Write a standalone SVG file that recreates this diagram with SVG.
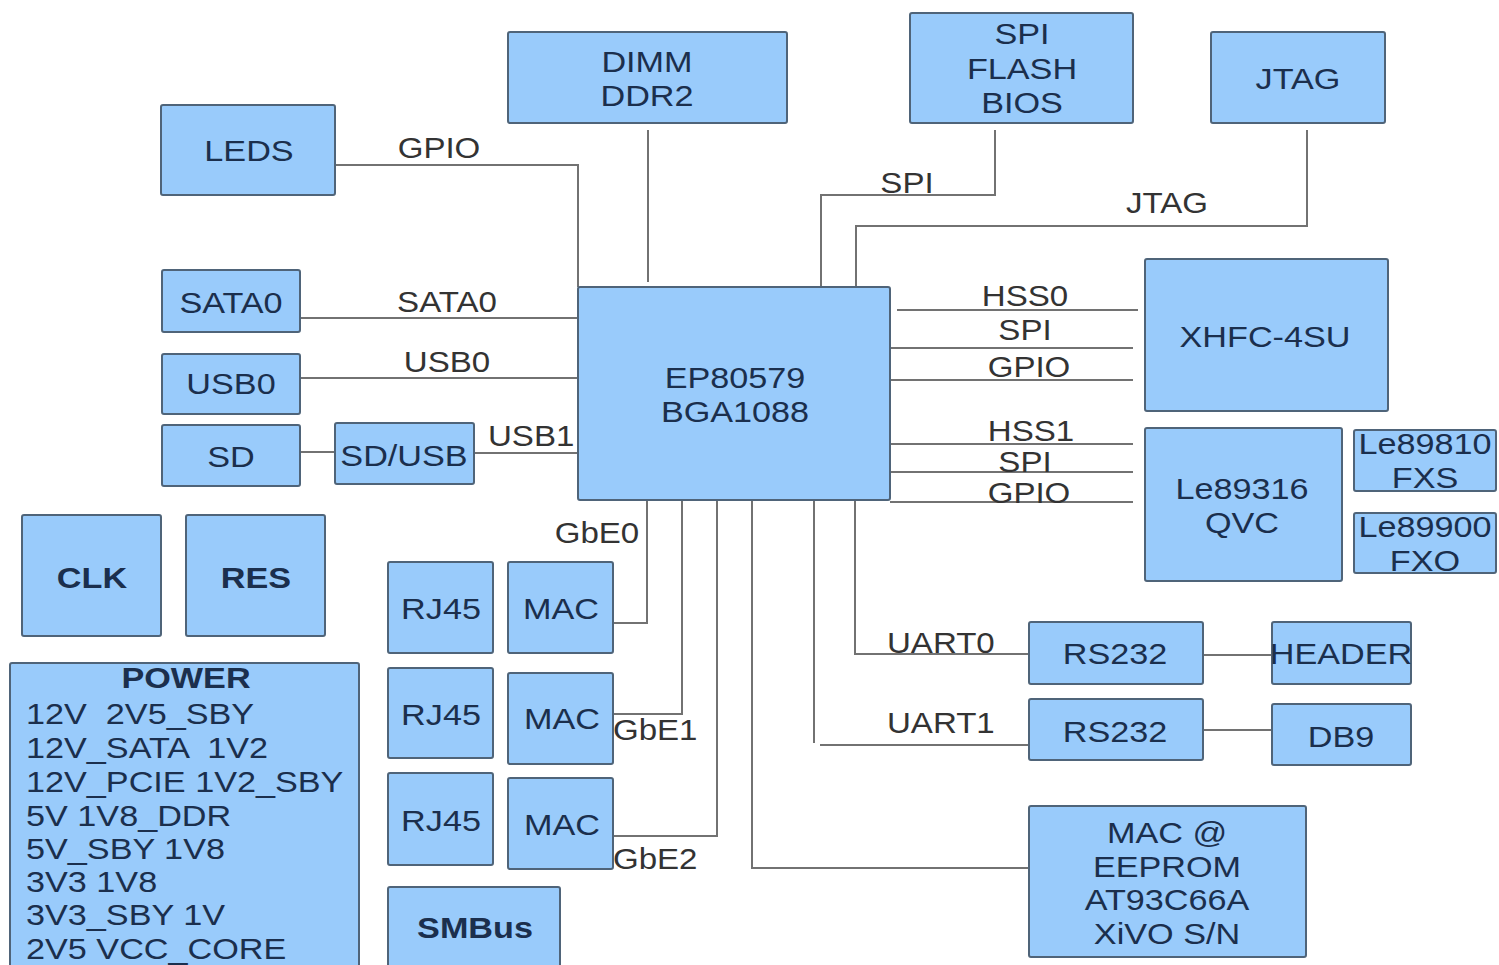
<svg xmlns="http://www.w3.org/2000/svg" width="1499" height="965" viewBox="0 0 1499 965">
<style>
.box{fill:#99cbfb;stroke:#4f6479;stroke-width:2}
.w{fill:none;stroke:#727272;stroke-width:2}
.n{font-family:"Liberation Sans",Arial,sans-serif;font-size:30px;fill:#1b2f4d;text-anchor:middle}
.b{font-weight:bold}
.p{font-family:"Liberation Sans",Arial,sans-serif;font-size:30px;fill:#1b2f4d;white-space:pre}
.l{font-family:"Liberation Sans",Arial,sans-serif;font-size:29px;fill:#333333;text-anchor:middle}
.ls{font-family:"Liberation Sans",Arial,sans-serif;font-size:29px;fill:#333333}
</style>
<rect width="1499" height="965" fill="#ffffff"/>
<g id="connectors">
<path class="w" d="M335 165 H578 V287"/>
<path class="w" d="M648 130 V282"/>
<path class="w" d="M995 130 V195 H821 V287"/>
<path class="w" d="M1307 130 V226 H856 V287"/>
<path class="w" d="M300 318 H578"/>
<path class="w" d="M300 378 H578"/>
<path class="w" d="M300 452 H335"/>
<path class="w" d="M474 453 H578"/>
<path class="w" d="M897 310 H1138"/>
<path class="w" d="M890 348 H1133"/>
<path class="w" d="M890 380 H1133"/>
<path class="w" d="M890 444 H1133"/>
<path class="w" d="M890 472 H1133"/>
<path class="w" d="M890 502 H1133"/>
<path class="w" d="M647 500 V623 H612"/>
<path class="w" d="M682 500 V714 H612"/>
<path class="w" d="M717 500 V836 H612"/>
<path class="w" d="M752 500 V868 H1029"/>
<path class="w" d="M814 500 V743"/>
<path class="w" d="M820 745 H1029"/>
<path class="w" d="M855 500 V654 H1029"/>
<path class="w" d="M1203 655 H1272"/>
<path class="w" d="M1203 730 H1272"/>
<text class="l" transform="translate(439,158) scale(1.14,1)">GPIO</text>
<text class="l" transform="translate(907,193) scale(1.14,1)">SPI</text>
<text class="l" transform="translate(1167,213) scale(1.14,1)">JTAG</text>
<text class="l" transform="translate(447,312) scale(1.14,1)">SATA0</text>
<text class="l" transform="translate(447,372) scale(1.14,1)">USB0</text>
<text class="ls" transform="translate(488,446) scale(1.14,1)">USB1</text>
<text class="l" transform="translate(1025,306) scale(1.14,1)">HSS0</text>
<text class="l" transform="translate(1025,340) scale(1.14,1)">SPI</text>
<text class="l" transform="translate(1029,377) scale(1.14,1)">GPIO</text>
<text class="l" transform="translate(1031,441) scale(1.14,1)">HSS1</text>
<text class="l" transform="translate(1025,472) scale(1.14,1)">SPI</text>
<text class="l" transform="translate(1029,503) scale(1.14,1)">GPIO</text>
<text class="l" transform="translate(597,543) scale(1.14,1)">GbE0</text>
<text class="ls" transform="translate(613,740) scale(1.14,1)">GbE1</text>
<text class="ls" transform="translate(613,869) scale(1.14,1)">GbE2</text>
<text class="ls" transform="translate(887,653) scale(1.14,1)">UART0</text>
<text class="ls" transform="translate(887,733) scale(1.14,1)">UART1</text>
</g>
<g id="dimm"><rect class="box" x="508" y="32" width="279" height="91" rx="2"/>
<text class="n" transform="translate(647,72) scale(1.14,1)">DIMM</text>
<text class="n" transform="translate(647,106) scale(1.14,1)">DDR2</text></g>
<g id="spiflash"><rect class="box" x="910" y="13" width="223" height="110" rx="2"/>
<text class="n" transform="translate(1022,44) scale(1.14,1)">SPI</text>
<text class="n" transform="translate(1022,79) scale(1.14,1)">FLASH</text>
<text class="n" transform="translate(1022,113) scale(1.14,1)">BIOS</text></g>
<g id="jtag"><rect class="box" x="1211" y="32" width="174" height="91" rx="2"/>
<text class="n" transform="translate(1298,89) scale(1.14,1)">JTAG</text></g>
<g id="leds"><rect class="box" x="161" y="105" width="174" height="90" rx="2"/>
<text class="n" transform="translate(249,161) scale(1.14,1)">LEDS</text></g>
<g id="sata0"><rect class="box" x="162" y="270" width="138" height="62" rx="2"/>
<text class="n" transform="translate(231,313) scale(1.14,1)">SATA0</text></g>
<g id="usb0"><rect class="box" x="162" y="354" width="138" height="60" rx="2"/>
<text class="n" transform="translate(231,394) scale(1.14,1)">USB0</text></g>
<g id="sd"><rect class="box" x="162" y="425" width="138" height="61" rx="2"/>
<text class="n" transform="translate(231,467) scale(1.14,1)">SD</text></g>
<g id="sdusb"><rect class="box" x="335" y="423" width="139" height="61" rx="2"/>
<text class="n" transform="translate(404,466) scale(1.14,1)">SD/USB</text></g>
<g id="clk"><rect class="box" x="22" y="515" width="139" height="121" rx="2"/>
<text class="n b" transform="translate(92,588) scale(1.14,1)">CLK</text></g>
<g id="res"><rect class="box" x="186" y="515" width="139" height="121" rx="2"/>
<text class="n b" transform="translate(256,588) scale(1.14,1)">RES</text></g>
<g id="power"><rect class="box" x="10" y="663" width="349" height="310" rx="2"/>
<text class="n b" transform="translate(186,688) scale(1.14,1)">POWER</text>
<text class="p" transform="translate(26,724) scale(1.14,1)">12V  2V5_SBY</text>
<text class="p" transform="translate(26,758) scale(1.14,1)">12V_SATA  1V2</text>
<text class="p" transform="translate(26,792) scale(1.14,1)">12V_PCIE 1V2_SBY</text>
<text class="p" transform="translate(26,826) scale(1.14,1)">5V 1V8_DDR</text>
<text class="p" transform="translate(26,859) scale(1.14,1)">5V_SBY 1V8</text>
<text class="p" transform="translate(26,892) scale(1.14,1)">3V3 1V8</text>
<text class="p" transform="translate(26,925) scale(1.14,1)">3V3_SBY 1V</text>
<text class="p" transform="translate(26,959) scale(1.14,1)">2V5 VCC_CORE</text></g>
<g id="rj45a"><rect class="box" x="388" y="562" width="105" height="91" rx="2"/>
<text class="n" transform="translate(441,619) scale(1.14,1)">RJ45</text></g>
<g id="rj45b"><rect class="box" x="388" y="668" width="105" height="90" rx="2"/>
<text class="n" transform="translate(441,725) scale(1.14,1)">RJ45</text></g>
<g id="rj45c"><rect class="box" x="388" y="773" width="105" height="92" rx="2"/>
<text class="n" transform="translate(441,831) scale(1.14,1)">RJ45</text></g>
<g id="maca"><rect class="box" x="508" y="562" width="105" height="91" rx="2"/>
<text class="n" transform="translate(561,619) scale(1.14,1)">MAC</text></g>
<g id="macb"><rect class="box" x="508" y="673" width="105" height="91" rx="2"/>
<text class="n" transform="translate(562,729) scale(1.14,1)">MAC</text></g>
<g id="macc"><rect class="box" x="508" y="778" width="105" height="91" rx="2"/>
<text class="n" transform="translate(562,835) scale(1.14,1)">MAC</text></g>
<g id="smbus"><rect class="box" x="388" y="887" width="172" height="90" rx="2"/>
<text class="n b" transform="translate(475,938) scale(1.14,1)">SMBus</text></g>
<g id="ep80579"><rect class="box" x="578" y="287" width="312" height="213" rx="2"/>
<text class="n" transform="translate(735,388) scale(1.14,1)">EP80579</text>
<text class="n" transform="translate(735,422) scale(1.14,1)">BGA1088</text></g>
<g id="xhfc"><rect class="box" x="1145" y="259" width="243" height="152" rx="2"/>
<text class="n" transform="translate(1265,347) scale(1.14,1)">XHFC-4SU</text></g>
<g id="le89316"><rect class="box" x="1145" y="428" width="197" height="153" rx="2"/>
<text class="n" transform="translate(1242,499) scale(1.14,1)">Le89316</text>
<text class="n" transform="translate(1242,533) scale(1.14,1)">QVC</text></g>
<g id="le89810"><rect class="box" x="1354" y="430" width="142" height="61" rx="2"/>
<text class="n" transform="translate(1425,454) scale(1.14,1)">Le89810</text>
<text class="n" transform="translate(1425,488) scale(1.14,1)">FXS</text></g>
<g id="le89900"><rect class="box" x="1354" y="513" width="142" height="60" rx="2"/>
<text class="n" transform="translate(1425,537) scale(1.14,1)">Le89900</text>
<text class="n" transform="translate(1425,571) scale(1.14,1)">FXO</text></g>
<g id="rs232a"><rect class="box" x="1029" y="622" width="174" height="62" rx="2"/>
<text class="n" transform="translate(1115,664) scale(1.14,1)">RS232</text></g>
<g id="header"><rect class="box" x="1272" y="622" width="139" height="62" rx="2"/>
<text class="n" transform="translate(1341,664) scale(1.14,1)">HEADER</text></g>
<g id="rs232b"><rect class="box" x="1029" y="699" width="174" height="61" rx="2"/>
<text class="n" transform="translate(1115,742) scale(1.14,1)">RS232</text></g>
<g id="db9"><rect class="box" x="1272" y="704" width="139" height="61" rx="2"/>
<text class="n" transform="translate(1341,747) scale(1.14,1)">DB9</text></g>
<g id="eeprom"><rect class="box" x="1029" y="806" width="277" height="151" rx="2"/>
<text class="n" transform="translate(1167,843) scale(1.14,1)">MAC @</text>
<text class="n" transform="translate(1167,877) scale(1.14,1)">EEPROM</text>
<text class="n" transform="translate(1167,910) scale(1.14,1)">AT93C66A</text>
<text class="n" transform="translate(1167,944) scale(1.14,1)">XiVO S/N</text></g>
</svg>
